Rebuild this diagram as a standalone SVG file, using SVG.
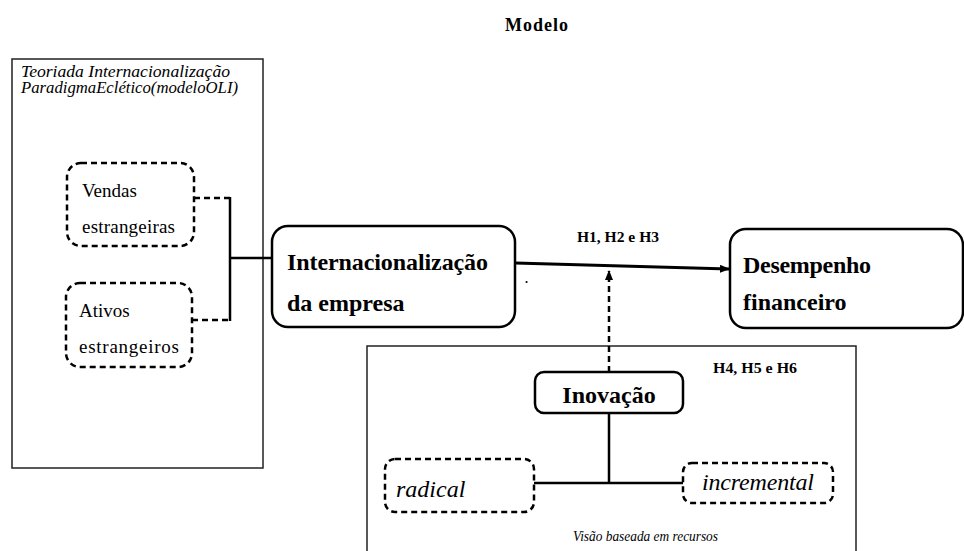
<svg xmlns="http://www.w3.org/2000/svg" width="964" height="551" viewBox="0 0 964 551">
<style>
text{fill:#000}
.b{font-weight:bold}
.i{font-style:italic}
.frame{fill:#fff;stroke:#222;stroke-width:1.5}
.node{fill:#fff;stroke:#000;stroke-width:2.5}
.dnode{fill:#fff;stroke:#000;stroke-width:2.5;stroke-dasharray:6 4}
.ln{fill:none;stroke:#000;stroke-width:2.5}
.dln{fill:none;stroke:#000;stroke-width:2.5;stroke-dasharray:6 4}
</style>
<defs>
<marker id="ah" markerWidth="10" markerHeight="8" refX="9" refY="4" orient="auto" markerUnits="userSpaceOnUse">
<path d="M0,0 L10,4 L0,8 Z" fill="#000"/>
</marker>
</defs>
<rect width="964" height="551" fill="#fff"/>
<g font-family="Liberation Serif">
<text class="b" x="505" y="31" font-size="18" textLength="63" lengthAdjust="spacing">Modelo</text>

<g id="teoria">
<rect class="frame" x="12" y="59" width="251" height="409"/>
<text class="i" x="21" y="77" font-size="16" textLength="209" lengthAdjust="spacingAndGlyphs">Teoriada Internacionalização</text>
<text class="i" x="21" y="93" font-size="16" textLength="217" lengthAdjust="spacingAndGlyphs">ParadigmaEclético(modeloOLI)</text>
</g>

<g id="rbv">
<rect class="frame" x="367" y="346" width="489" height="220"/>
<text class="i" x="573" y="541" font-size="14" textLength="145" lengthAdjust="spacingAndGlyphs">Visão baseada em recursos</text>
</g>

<g id="vendas">
<rect class="dnode" x="67" y="163" width="127" height="83" rx="14"/>
<text x="82" y="197" font-size="19">Vendas</text>
<text x="82" y="233" font-size="19" textLength="93">estrangeiras</text>
</g>

<g id="ativos">
<rect class="dnode" x="66" y="283" width="126" height="84" rx="14"/>
<text x="79" y="317" font-size="19">Ativos</text>
<text x="79" y="353" font-size="19" textLength="100">estrangeiros</text>
</g>

<g id="internacionalizacao">
<rect class="node" x="272" y="226" width="243" height="101" rx="16"/>
<text class="b" x="287" y="270" font-size="24" textLength="201">Internacionalização</text>
<text class="b" x="287" y="311" font-size="24">da empresa</text>
</g>

<g id="desempenho">
<rect class="node" x="730" y="229" width="233" height="99" rx="16"/>
<text class="b" x="743" y="273" font-size="24" textLength="128">Desempenho</text>
<text class="b" x="743" y="310" font-size="24">financeiro</text>
</g>

<g id="inovacao">
<rect class="node" x="535" y="372" width="148" height="41" rx="9"/>
<text class="b" x="609" y="403" font-size="24" text-anchor="middle">Inovação</text>
</g>

<g id="radical">
<rect class="dnode" x="385" y="459" width="149" height="53" rx="10"/>
<text class="i" x="396" y="497" font-size="24">radical</text>
</g>

<g id="incremental">
<rect class="dnode" x="683" y="463" width="150" height="40" rx="9"/>
<text class="i" x="702" y="490" font-size="24" textLength="112">incremental</text>
</g>

<g id="labels">
<text class="b" x="577" y="242" font-size="14" textLength="82" lengthAdjust="spacingAndGlyphs">H1, H2 e H3</text>
<text class="b" x="713" y="373" font-size="14" textLength="84" lengthAdjust="spacingAndGlyphs">H4, H5 e H6</text>
<text class="b" x="525" y="283" font-size="12">.</text>
</g>
</g>

<g id="connectors">
<path class="dln" d="M194,198 H230"/>
<path class="dln" d="M192,320 H230"/>
<path class="ln" d="M230,197 V321 M230,258 H272"/>
<path d="M515,263 L729,269" fill="none" stroke="#000" stroke-width="3" marker-end="url(#ah)"/>
<path class="dln" d="M609,372 V271" marker-end="url(#ah)"/>
<path class="ln" d="M609,413 V483 M534,483 H683"/>
</g>
</svg>
